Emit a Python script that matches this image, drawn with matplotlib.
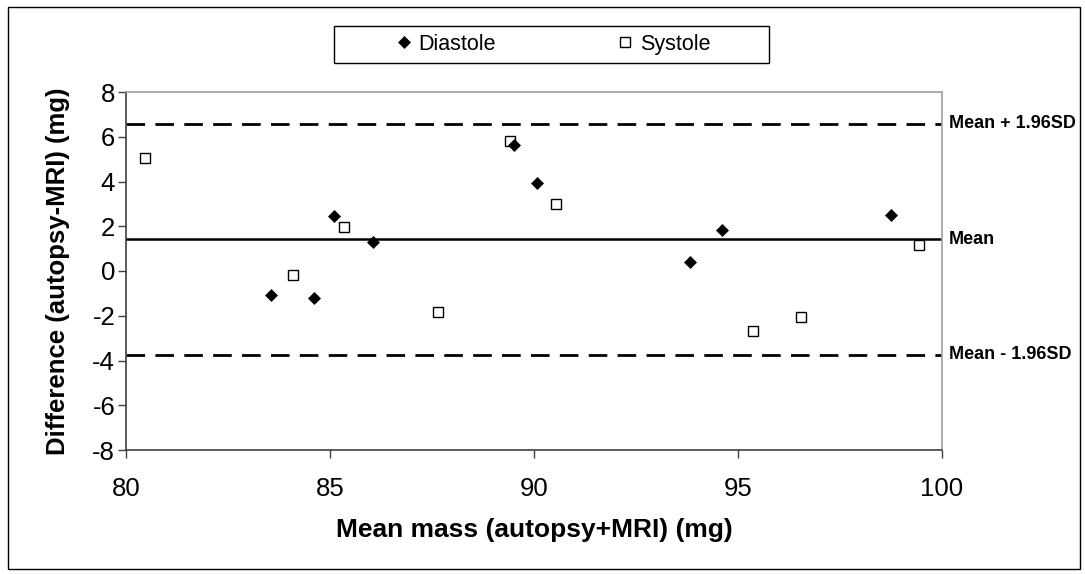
import matplotlib
matplotlib.use("Agg")
import matplotlib.pyplot as plt
from matplotlib.patches import Rectangle

plt.rcParams['font.family'] = ['Liberation Sans', 'DejaVu Sans']
plt.rcParams['axes.unicode_minus'] = False  # plain hyphen for negative ticks

# Diastole points (mean mass, difference)
dia_x = [83.55, 84.6, 85.11, 86.05, 89.52, 90.07, 93.83, 94.62, 98.76]
dia_y = [-1.09, -1.22, 2.46, 1.31, 5.61, 3.94, 0.40, 1.84, 2.50]

# Systole points
sys_x = [80.47, 84.09, 85.34, 87.65, 89.41, 90.55, 95.36, 96.55, 99.44]
sys_y = [5.06, -0.16, 1.95, -1.84, 5.79, 2.98, -2.68, -2.07, 1.16]

mean_diff = 1.42
upper_loa = 6.59
lower_loa = -3.74

x_ticks = [80, 85, 90, 95, 100]
y_ticks = [8, 6, 4, 2, 0, -2, -4, -6, -8]

W, H = 1085, 574
fig = plt.figure(figsize=(W / 100, H / 100), dpi=100)
ax = fig.add_axes([126 / W, 1 - 450 / H, (942 - 126) / W, (450 - 92) / H])

ax.axhline(upper_loa, color='black', lw=2, dashes=(6.7, 3.7), zorder=2)
ax.axhline(mean_diff, color='black', lw=1.8, zorder=2)
ax.axhline(lower_loa, color='black', lw=2, dashes=(6.7, 3.7), zorder=2)

ax.plot(sys_x, sys_y, linestyle='none', marker='s', ms=7, mfc='white', mec='black', mew=1.0,
        label='Systole', zorder=3)
ax.plot(dia_x, dia_y, linestyle='none', marker='D', ms=6, mfc='black', mec='black', mew=0.5,
        label='Diastole', zorder=4)

ax.set_xlim(80, 100)
ax.set_ylim(-8, 8)
ax.set_xticks(x_ticks)
ax.set_yticks(y_ticks)
ax.tick_params(axis='both', direction='out', length=5.8, width=1, color='#404040', labelsize=18.5)
ax.tick_params(axis='x', pad=14)
ax.tick_params(axis='y', pad=2)

for side in ['left', 'bottom']:
    ax.spines[side].set_color('#404040')
    ax.spines[side].set_linewidth(1.2)
for side in ['top', 'right']:
    ax.spines[side].set_color('#a0a0a0')
    ax.spines[side].set_linewidth(1.2)

ax.set_xlabel('Mean mass (autopsy+MRI) (mg)', fontsize=19, fontweight='bold', labelpad=12)
ax.set_ylabel('Difference (autopsy-MRI) (mg)', fontsize=18.5, fontweight='bold', labelpad=16)

for val, txt in [(upper_loa, 'Mean + 1.96SD'), (mean_diff, 'Mean'), (lower_loa, 'Mean - 1.96SD')]:
    ax.annotate(txt, xy=(1, val), xycoords=('axes fraction', 'data'), xytext=(5, 0),
                textcoords='offset points', va='center', ha='left', fontsize=13, fontweight='bold')

# legend: handles in order Diastole, Systole
h, l = ax.get_legend_handles_labels()
fig.legend([h[1], h[0]], [l[1], l[0]], loc='center', bbox_to_anchor=(553 / W, 1 - 44.5 / H),
           ncol=2, frameon=False, fontsize=15.5, handlelength=0.8, handletextpad=0.3,
           columnspacing=5.6, numpoints=1)
fig.patches.append(Rectangle((334 / W, 1 - 63 / H), 435 / W, 37 / H, transform=fig.transFigure,
                             fill=False, edgecolor='black', lw=1))

# outer chart border
fig.patches.append(Rectangle((8 / W, 1 - 569 / H), 1072 / W, 562 / H, transform=fig.transFigure,
                             fill=False, edgecolor='black', lw=1))

fig.savefig('out.png', dpi=100)
